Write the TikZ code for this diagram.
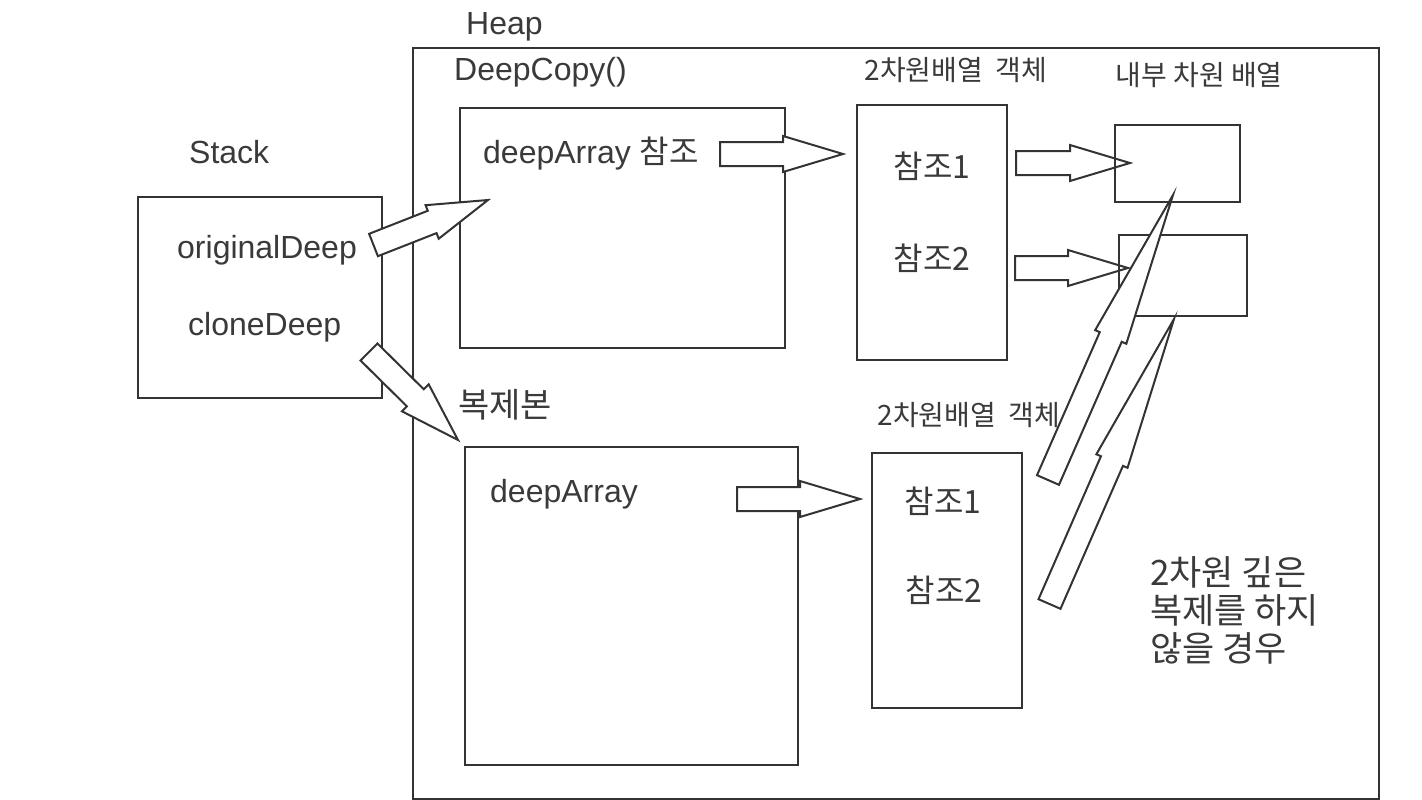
\documentclass[tikz,border=0pt]{standalone}
\usepackage{fontspec}
\setmainfont{Liberation Sans}
\newfontfamily\krfont{Noto Sans CJK KR}
\usetikzlibrary{calc,positioning}
\definecolor{linegray}{HTML}{333333}
\definecolor{textgray}{HTML}{3A3A3A}
\newcommand{\ko}[1]{{\krfont #1}}

\tikzset{
  fat shaft/.store in=\fatshaft, fat head/.store in=\fathead, fat len/.store in=\fatlen,
  fat shaft=12, fat head=18, fat len=60,
  fat/.style={draw=linegray, line width=2pt, fill=white,
    to path={let \p1=(\tikztostart), \p2=(\tikztotarget),
      \n1={atan2(\y2-\y1,\x2-\x1)}, \n2={veclen(\x2-\x1,\y2-\y1)} in
      {[shift={(\p1)}, rotate=\n1]
        (0pt,{-\fatshaft*1pt}) -- ({\n2-\fatlen*1pt},{-\fatshaft*1pt})
        -- ({\n2-\fatlen*1pt},{-\fathead*1pt}) -- ({\n2*1pt},0pt)
        -- ({\n2-\fatlen*1pt},{\fathead*1pt}) -- ({\n2-\fatlen*1pt},{\fatshaft*1pt})
        -- (0pt,{\fatshaft*1pt}) -- cycle}}}
}

\begin{document}
\begin{tikzpicture}[x=1pt, y=-1pt,
  box/.style={draw=linegray, line width=2pt, inner sep=0pt, outer sep=0pt},
  lbl/.style={font=\fontsize{32}{38}\selectfont, text=textgray, inner sep=0pt},
  kolbl/.style={font=\krfont\fontsize{32}{38}\selectfont, text=textgray, inner sep=0pt},
  headlbl/.style={font=\krfont\fontsize{28}{32}\selectfont, text=textgray, inner sep=0pt}]

\useasboundingbox (0,0) rectangle (1422,800);

\node[box, minimum width=966pt, minimum height=751pt] (heap) at (896,423.5) {};
\node[box, minimum width=244pt, minimum height=201pt] (stack) at (260,297.5) {};
\node[box, minimum width=325pt, minimum height=240pt] (deep) at (622.5,228) {};
\node[box, minimum width=150pt, minimum height=255pt] (arrA) at (932,232.5) {};
\node[box, minimum width=333pt, minimum height=318pt] (clone) at (631.5,606) {};
\node[box, minimum width=150pt, minimum height=255pt] (arrB) at (947,580.5) {};

\node[lbl, anchor=base west] (heaplbl) at (466,35) {Heap};
\node[lbl, anchor=base west] (deeplbl) at (454,81) {DeepCopy()};
\node[lbl, anchor=base west] (stacklbl) at (189,163) {Stack};
\node[lbl, anchor=base west] (orig) at (177,258) {originalDeep};
\node[lbl, anchor=base west] (cdeep) at (188,335) {cloneDeep};
\node[lbl, anchor=base west] (dref) at (483,163) {deepArray \ko{참조}};
\node[lbl, anchor=base west] (darr) at (490,502) {deepArray};
\node[kolbl, font=\krfont\fontsize{34}{40}\selectfont] (clonelbl) at (505,405) {복제본};
\node[headlbl] (arrAlbl) at (956,70) {2차원배열\ \ 객체};
\node[headlbl] (innerlbl) at (1199,75) {내부 차원 배열};
\node[headlbl] (arrBlbl) at (969,415) {2차원배열\ \ 객체};
\node[kolbl] (aref1) at (932,166) {참조1};
\node[kolbl] (aref2) at (932,258) {참조2};
\node[kolbl] (bref1) at (943,501) {참조1};
\node[kolbl] (bref2) at (944,590) {참조2};
\node[kolbl, font=\krfont\fontsize{35}{38}\selectfont, align=left, anchor=west] (note) at (1150,610)
  {2차원 깊은\\복제를 하지\\않을 경우};

\coordinate (s1a) at (373.5,245); \coordinate (s1b) at (488,200);
\coordinate (s2a) at (369,352);   \coordinate (s2b) at (458,440);
\coordinate (a1a) at (720,154);   \coordinate (a1b) at (843,154);
\coordinate (a2a) at (737,499);   \coordinate (a2b) at (860,499);
\coordinate (r1a) at (1016,163);  \coordinate (r1b) at (1130,163);
\coordinate (r2a) at (1015,268);  \coordinate (r2b) at (1128,268);
\coordinate (l1a) at (1048,480);  \coordinate (l1b) at (1173,195);
\coordinate (l2a) at (1049.5,604); \coordinate (l2b) at (1174,319);

\draw[fat] (s1a) to (s1b);
\draw[fat, fat head=19] (s2a) to (s2b);
\draw[fat] (a1a) to (a1b);
\draw[fat] (a2a) to (a2b);
\draw[fat] (r1a) to (r1b);
\draw[fat] (r2a) to (r2b);

\node[box, minimum width=125pt, minimum height=77pt] (inner1) at (1177.5,163.5) {};
\node[box, minimum width=128pt, minimum height=81pt] (inner2) at (1183,275) {};

\draw[fat, fat head=17, fat len=155] (l1a) to (l1b);
\draw[fat, fat head=17, fat len=155] (l2a) to (l2b);

\end{tikzpicture}
\end{document}
